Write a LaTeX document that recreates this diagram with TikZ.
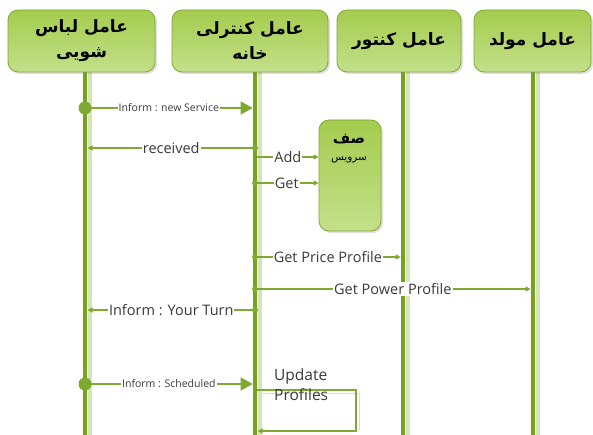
\documentclass[tikz,border=0pt]{standalone}
\usepackage{fontspec}
\setmainfont{Open Sans}
\newfontfamily\arabicfont[Script=Arabic]{DejaVu Sans}
\TeXXeTstate=1
\usetikzlibrary{arrows.meta,shadows}
\definecolor{lifedark}{HTML}{76A21E}
\definecolor{lifelight}{HTML}{D5E4B9}
\definecolor{msgc}{HTML}{7FAA32}
\definecolor{boxtop}{HTML}{A4CC4E}
\definecolor{boxbot}{HTML}{C3E08A}
\definecolor{boxline}{HTML}{7FA838}
\definecolor{txt}{HTML}{3A3A3A}
\begin{document}
\begin{tikzpicture}[x=1pt,y=-1pt,
  hdr/.style={draw=boxline, line width=0.8pt, rounded corners=10pt,
    top color=boxtop, bottom color=boxbot,
    drop shadow={opacity=0.25, shadow xshift=2pt, shadow yshift=-2pt},
    minimum height=62pt, inner sep=2pt, align=center,
    font=\arabicfont\bfseries\fontsize{17}{25}\selectfont},
  qbox/.style={draw=boxline, line width=0.8pt, rounded corners=10pt,
    top color=boxtop, bottom color=boxbot,
    drop shadow={opacity=0.25, shadow xshift=2pt, shadow yshift=-2pt},
    minimum width=62pt, minimum height=111pt, inner sep=0pt},
  lifeln/.style={draw=lifedark, line width=4.5pt},
  lifesh/.style={draw=lifelight, line width=4pt},
  msg/.style={draw=msgc, line width=1.1pt},
  lbl/.style={fill=white, inner sep=1pt, text=txt, font=\fontsize{14.5}{16}\selectfont},
  slbl/.style={fill=white, inner sep=1pt, text=txt, font=\fontsize{10.5}{12}\selectfont},
  bigtip/.style={-{Triangle[length=12pt,width=13pt]}},
  smtip/.style={-{Triangle[length=5pt,width=5pt]}},
  bigdot/.style={circle, fill=msgc, inner sep=0pt, minimum size=13pt},
  smdot/.style={circle, fill=msgc, inner sep=0pt, minimum size=6pt}
]
\fill[white] (0,0) rectangle (593,435);
\useasboundingbox (0,0) rectangle (593,435);

% lifeline anchors
\coordinate (L1) at (85,72);
\coordinate (L2) at (255,72);
\coordinate (L3) at (403,72);
\coordinate (L4) at (533,72);
\coordinate (B1) at (85,435);
\coordinate (B2) at (255,435);
\coordinate (B3) at (403,435);
\coordinate (B4) at (533,435);

% lifelines
\foreach \a/\b in {L1/B1,L2/B2,L3/B3,L4/B4}{
  \draw[lifesh] ([xshift=4.5pt]\a) -- ([xshift=4.5pt]\b);
  \draw[lifeln] (\a) -- (\b);
}

% headers
\node[hdr, minimum width=147pt] (h1) at (81.5,41) {\beginR عامل لباس\endR\\\beginR شویی\endR};
\node[hdr, minimum width=156pt] (h2) at (250,41) {\beginR عامل کنترلی\endR\\\beginR خانه\endR};
\node[hdr, minimum width=124pt] (h3) at (399,41) {\beginR عامل کنتور\endR};
\node[hdr, minimum width=117pt] (h4) at (532.5,41) {\beginR عامل مولد\endR};

% queue box
\node[qbox] (q) at (350,175.5) {};
\node[font=\arabicfont\bfseries\fontsize{15}{17}\selectfont, inner sep=0pt] (qt1) at (349,139) {\beginR صف\endR};
\node[font=\arabicfont\fontsize{10.5}{12}\selectfont, inner sep=0pt] (qt2) at (349,160) {\beginR سرویس\endR};

% rows
\coordinate (y1) at (0,108);
\coordinate (y2) at (0,148);
\coordinate (y3) at (0,157);
\coordinate (y4) at (0,183);
\coordinate (y5) at (0,257);
\coordinate (y6) at (0,289);
\coordinate (y7) at (0,310);
\coordinate (y8) at (0,384);
\coordinate (y9) at (0,390);
\coordinate (y10) at (0,431);
\coordinate (sm) at (356,390);

% 1 Inform : new Service
\draw[msg, bigtip] (L1 |- y1) -- node[slbl]{Inform : new Service} ([xshift=-2.3pt]L2 |- y1);
\node[bigdot] (d1) at (L1 |- y1) {};
% 2 received
\draw[msg, smtip] (L2 |- y2) -- node[lbl]{received} ([xshift=2.5pt]L1 |- y2);
\node[smdot] (d2) at (L2 |- y2) {};
% 3 Add
\draw[msg, smtip] ([xshift=2pt]L2 |- y3) -- node[lbl]{Add} (q.west |- y3);
% 4 Get
\draw[msg, smtip] (L2 |- y4) -- node[lbl]{Get} (q.west |- y4);
\node[smdot] (d4) at (L2 |- y4) {};
% 5 Get Price Profile
\draw[msg, smtip] (L2 |- y5) -- node[lbl]{Get Price Profile} ([xshift=-2.3pt]L3 |- y5);
\node[smdot] (d5) at (L2 |- y5) {};
% 6 Get Power Profile
\draw[msg, smtip] (L2 |- y6) -- node[lbl]{Get Power Profile} ([xshift=-2.3pt]L4 |- y6);
\node[smdot] (d6) at (L2 |- y6) {};
% 7 Inform : Your Turn
\draw[msg, smtip] (L2 |- y7) -- node[lbl]{Inform : Your Turn} ([xshift=2.5pt]L1 |- y7);
\node[smdot] (d7) at (L2 |- y7) {};
% 8 Inform : Scheduled
\draw[msg, bigtip] (L1 |- y8) -- node[slbl]{Inform : Scheduled} ([xshift=-2.3pt]L2 |- y8);
\node[bigdot] (d8) at (L1 |- y8) {};
% 9 self message
\draw[lifelight, line width=1pt] ([shift={(3pt,-3pt)}]L2 |- y9) -- ([shift={(3pt,-3pt)}]sm) -- ([shift={(3pt,0pt)}]sm |- y10);
\draw[msg, smtip] ([xshift=2.3pt]L2 |- y9) -- (sm) -- (sm |- y10) -- ([xshift=2.5pt]L2 |- y10);
\node[anchor=north west, align=left, inner sep=0pt, text=txt, font=\fontsize{15.5}{20}\selectfont] (up) at (274,369) {Update\\Profiles};
\end{tikzpicture}
\end{document}
